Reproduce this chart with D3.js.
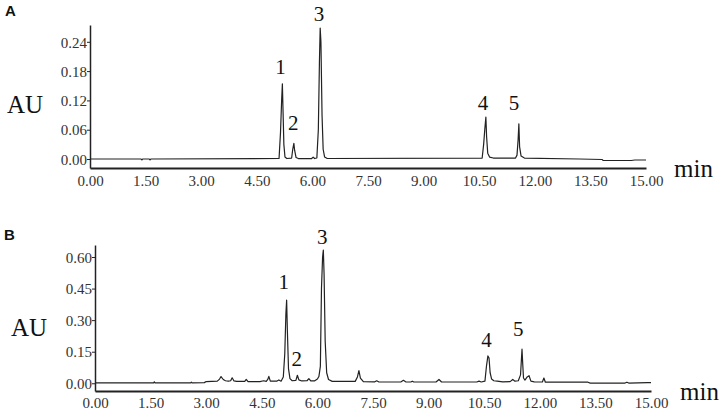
<!DOCTYPE html>
<html>
<head>
<meta charset="utf-8">
<script src="https://cdn.jsdelivr.net/npm/d3@7"></script>
<style>
  html, body { margin: 0; padding: 0; background: #fff; }
  svg { display: block; }
</style>
</head>
<body>
<svg id="chart" width="725" height="415"></svg>
<script>
// ---------- DATA ----------
const xTicks = [0, 1.5, 3, 4.5, 6, 7.5, 9, 10.5, 12, 13.5, 15];
const yTicksA = [0, 0.06, 0.12, 0.18, 0.24];
const yTicksB = [0, 0.15, 0.30, 0.45, 0.60];
const peakNames = ["1", "2", "3", "4", "5"];

// Panel A trace (time, min ; absorbance, AU)
const timeA = [0, 1.38, 1.40, 1.42, 1.60, 1.62, 1.64, 5.10, 5.14, 5.17, 5.19, 5.21, 5.23, 5.26, 5.31,
  5.44, 5.47, 5.50, 5.52, 5.56, 5.62, 5.98, 6.02, 6.06, 6.12, 6.16, 6.19, 6.21, 6.23, 6.26, 6.29, 6.33, 6.40,
  10.58, 10.62, 10.65, 10.68, 10.70, 10.73, 10.78, 10.88, 11.48, 11.52, 11.55, 11.57, 11.59, 11.63, 11.72,
  13.20, 13.82, 13.84, 14.10, 14.60, 14.70, 15.0];
const valueA = [0, 0, -0.002, 0, 0, -0.002, 0, 0.001, 0.055, 0.120, 0.154, 0.092, 0.030, 0.004, 0.001,
  0.002, 0.020, 0.032, 0.018, 0.003, 0.001, 0.001, 0.004, 0.001, 0.002, 0.060, 0.200, 0.268, 0.240, 0.090, 0.020, 0.004, 0.001,
  0.002, 0.030, 0.060, 0.086, 0.045, 0.012, 0.004, 0.002, 0.002, 0.008, 0.040, 0.072, 0.025, 0.006, 0.002,
  0.000, -0.001, -0.003, -0.003, -0.003, -0.002, -0.002];

// Panel B trace
const timeB = [0, 1.58, 1.60, 1.62, 2.58, 2.60, 2.62, 2.95, 3.00, 3.30, 3.36, 3.40, 3.46, 3.52, 3.60, 3.66, 3.70, 3.75, 3.82,
  4.04, 4.08, 4.13, 4.45, 4.55, 4.62, 4.66, 4.69, 4.73, 4.90, 4.96, 5.02, 5.08, 5.12, 5.15, 5.17, 5.19, 5.22, 5.26, 5.32,
  5.42, 5.46, 5.50, 5.58, 5.72, 5.77, 5.82, 5.92, 6.00, 6.04, 6.08, 6.11, 6.14, 6.16, 6.18, 6.21, 6.25, 6.30, 6.40,
  7.02, 7.08, 7.12, 7.16, 7.24, 7.55, 7.60, 7.66, 8.25, 8.32, 8.38, 8.52, 8.56, 8.60, 9.20, 9.28, 9.35, 10.30, 10.36, 10.42,
  10.52, 10.56, 10.60, 10.63, 10.66, 10.70, 10.76, 10.85, 11.00, 11.20, 11.27, 11.33, 11.42, 11.48, 11.52, 11.54, 11.56, 11.60,
  11.66, 11.71, 11.76, 11.85, 12.07, 12.11, 12.15, 13.30, 13.36, 14.30, 14.35, 14.40, 14.90, 15.0];
const valueB = [0.002, 0.002, 0.007, 0.002, 0.002, 0.005, 0.002, 0.003, 0.008, 0.010, 0.020, 0.032, 0.018, 0.012, 0.010, 0.012, 0.026, 0.011, 0.009,
  0.009, 0.018, 0.008, 0.008, 0.012, 0.009, 0.018, 0.033, 0.010, 0.010, 0.016, 0.010, 0.030, 0.140, 0.330, 0.395, 0.250, 0.070, 0.022, 0.012,
  0.014, 0.038, 0.016, 0.011, 0.012, 0.022, 0.011, 0.011, 0.020, 0.032, 0.080, 0.450, 0.600, 0.633, 0.520, 0.200, 0.050, 0.018, 0.009,
  0.009, 0.030, 0.060, 0.025, 0.008, 0.007, 0.012, 0.006, 0.006, 0.014, 0.007, 0.006, 0.010, 0.006, 0.006, 0.018, 0.006, 0.006, 0.010, 0.006,
  0.010, 0.080, 0.130, 0.120, 0.050, 0.020, 0.012, 0.010, 0.007, 0.008, 0.018, 0.010, 0.012, 0.040, 0.162, 0.090, 0.025, 0.015,
  0.030, 0.036, 0.010, 0.007, 0.006, 0.025, 0.005, 0.005, 0.001, 0.001, 0.005, 0.001, 0.003, 0.003];

// Peak label anchor positions (time, AU)
const labelTimeA = [5.14, 5.48, 6.18, 10.60, 11.44];
const labelValueA = [0.174, 0.059, 0.283, 0.100, 0.100];
const labelTimeB = [5.09, 5.44, 6.13, 10.56, 11.42];
const labelValueB = [0.448, 0.082, 0.662, 0.173, 0.224];

// ---------- DRAW ----------
const svg = d3.select("#chart");
const serif = "'Liberation Serif', 'Times New Roman', serif";
const ink = "#222";

function panel(cfg) {
  const x = d3.scaleLinear().domain([0, 15]).range([cfg.x0, cfg.x1]);
  const y = d3.scaleLinear().domain(cfg.yDomain).range([cfg.yBottom, cfg.yTop]);
  const g = svg.append("g");

  // trace
  const pts = cfg.times.map((t, i) => [t, cfg.values[i]]);
  g.append("path")
    .datum(pts)
    .attr("fill", "none")
    .attr("stroke", ink)
    .attr("stroke-width", 1.2)
    .attr("stroke-linejoin", "round")
    .attr("d", d3.line().x(d => x(d[0])).y(d => y(d[1])));

  // y axis
  const ya = g.append("g")
    .attr("transform", `translate(${cfg.x0},0)`)
    .call(d3.axisLeft(y).tickValues(cfg.yTicks).tickFormat(d3.format(".2f")).tickSize(3).tickPadding(0).tickSizeOuter(0));
  ya.select(".domain").attr("stroke", ink).attr("stroke-width", 1.5);
  ya.selectAll(".tick line").attr("stroke", ink);
  ya.selectAll("text").attr("font-family", serif).attr("font-size", 15).attr("fill", "#333").attr("dy", "0.35em");

  // x axis
  const xa = g.append("g")
    .attr("transform", `translate(0,${cfg.yBottom})`)
    .call(d3.axisBottom(x).tickValues(xTicks).tickFormat(d3.format(".2f")).tickSize(0).tickPadding(cfg.xPad).tickSizeOuter(0));
  xa.select(".domain").attr("stroke", ink).attr("stroke-width", 2);
  xa.selectAll("text").attr("font-family", serif).attr("font-size", 15).attr("fill", "#333");

  // peak labels
  g.selectAll("text.peak")
    .data(peakNames)
    .join("text")
    .attr("class", "peak")
    .attr("x", (d, i) => x(cfg.labelTimes[i]))
    .attr("y", (d, i) => y(cfg.labelValues[i]))
    .attr("text-anchor", "middle")
    .attr("font-family", serif)
    .attr("font-size", 21)
    .attr("fill", "#111")
    .text(d => d);

  // AU label
  g.append("text")
    .attr("x", cfg.auX).attr("y", cfg.auY)
    .attr("font-family", serif).attr("font-size", 25).attr("fill", "#111")
    .text("AU");

  // min label
  g.append("text")
    .attr("x", cfg.minX).attr("y", cfg.minY)
    .attr("font-family", serif).attr("font-size", 25).attr("fill", "#111")
    .text("min");

  // panel letter
  g.append("text")
    .attr("x", cfg.letterX).attr("y", cfg.letterY)
    .attr("font-family", "'Liberation Sans', Arial, sans-serif")
    .attr("font-weight", "bold").attr("font-size", 15).attr("fill", "#111")
    .text(cfg.letter);
}

panel({
  times: timeA, values: valueA, yTicks: yTicksA,
  labelTimes: labelTimeA, labelValues: labelValueA,
  x0: 90, x1: 646, yBottom: 168, yTop: 25, yDomain: [-0.0184, 0.2744], xPad: 7,
  auX: 7, auY: 113, minX: 674, minY: 177, letter: "A", letterX: 5, letterY: 16
});

panel({
  times: timeB, values: valueB, yTicks: yTicksB,
  labelTimes: labelTimeB, labelValues: labelValueB,
  x0: 95, x1: 651, yBottom: 391, yTop: 245, yDomain: [-0.0367, 0.657], xPad: 6,
  auX: 11, auY: 336, minX: 680, minY: 400, letter: "B", letterX: 4, letterY: 240
});
</script>
</body>
</html>
